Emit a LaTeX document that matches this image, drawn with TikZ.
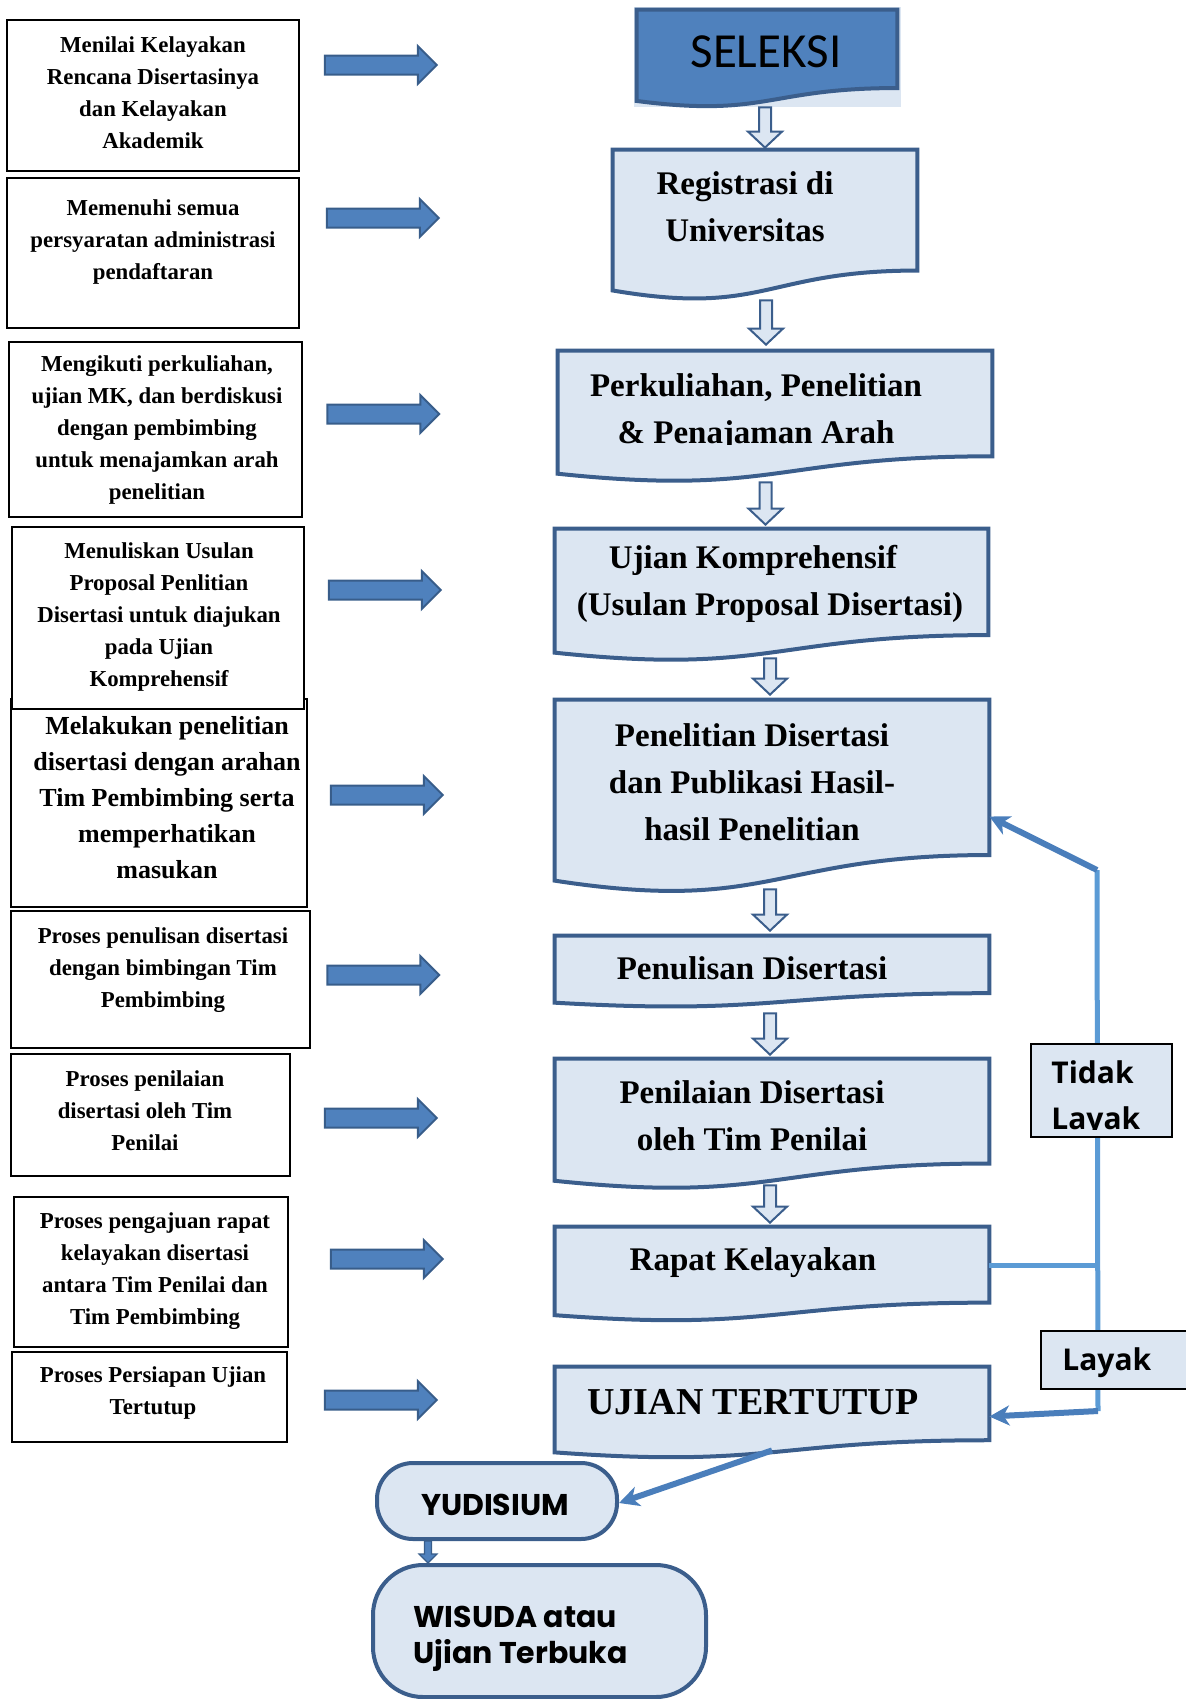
\documentclass[tikz,border=0pt]{standalone}
\usepackage{fontspec}
\setmainfont{Liberation Serif}
\newfontfamily\carlito{Carlito}
\newfontfamily\osans{Open Sans}
\newfontfamily\pops{Poppins}
\usetikzlibrary{arrows.meta,calc,fit,shapes.arrows}
\definecolor{bordc}{HTML}{3B5E8C}
\definecolor{boxc}{HTML}{DCE6F2}
\definecolor{arrf}{HTML}{4F81BD}
\definecolor{arrd}{HTML}{385D8A}
\definecolor{fbl}{HTML}{5B9BD5}
\definecolor{fbd}{HTML}{4A7EBB}
\newcommand\docshape[2]{\draw[#2] (#1.north west) -- (#1.north east) -- ($(#1.north east)!0.802!(#1.south east)$) .. controls ($(#1.north)!0.802!(#1.south)$) and ($(#1.north)!1.107!(#1.south)$) .. ($(#1.north west)!0.934!(#1.south west)$) -- cycle;}
\tikzset{
  lbox/.style={draw=black, line width=1pt, fill=white, inner sep=0pt},
  ltext/.style={font=\bfseries\fontsize{11.4pt}{16pt}\selectfont, align=center, inner sep=0pt},
  ltextb/.style={font=\bfseries\fontsize{13pt}{18pt}\selectfont, align=center, inner sep=0pt},
  rtext/.style={font=\bfseries\fontsize{16.5pt}{23.5pt}\selectfont, align=center, inner sep=0pt},
  frm/.style={inner sep=0pt},
  docsty/.style={draw=bordc, line width=2pt, fill=boxc},
  selsty/.style={draw=bordc, line width=2pt, fill=arrf},
  larrow/.style={single arrow, draw=arrd, fill=arrf, line width=1pt, inner xsep=0pt, inner ysep=4.25pt, single arrow head extend=4.75pt, minimum height=56pt},
  fatarrow/.style={draw=bordc, fill=boxc, line width=1pt, to path={let \p1=(\tikztostart), \p2=(\tikztotarget) in (\x2-3pt,\y1) -- (\x2+3pt,\y1) -- (\x2+3pt,\y2+8pt) -- (\x2+8.5pt,\y2+8pt) -- (\x2,\y2) -- (\x2-8.5pt,\y2+8pt) -- (\x2-3pt,\y2+8pt) -- cycle}},
  fatsmall/.style={draw=arrd, fill=arrf, line width=0.6pt, to path={let \p1=(\tikztostart), \p2=(\tikztotarget) in (\x2-1.75pt,\y1) -- (\x2+1.75pt,\y1) -- (\x2+1.75pt,\y2+4.5pt) -- (\x2+4.5pt,\y2+4.5pt) -- (\x2,\y2) -- (\x2-4.5pt,\y2+4.5pt) -- (\x2-1.75pt,\y2+4.5pt) -- cycle}},
  fbline/.style={draw=fbl, line width=2.5pt},
  fbarrow/.style={draw=fbd, line width=3pt, -{Stealth[length=10pt,width=10pt,inset=3pt]}},
  tbox/.style={draw=black, line width=1pt, fill=boxc, inner sep=0pt},
  ttext/.style={font=\osans\bfseries\fontsize{15pt}{23pt}\selectfont, align=left, inner sep=0pt, anchor=west},
  roundbox/.style={draw=bordc, line width=2pt, fill=boxc, inner sep=0pt},
  ptext/.style={font=\pops\bfseries\fontsize{15pt}{18pt}\selectfont, align=left, inner sep=0pt}
}
\begin{document}
\begin{tikzpicture}[x=0.5pt,y=-0.5pt]
\useasboundingbox (0,0) rectangle (1185,1699);

% ---------- left boxes ----------
\node[lbox, fit={(7,20) (299,171)}] (lb1) {};
\node[lbox, fit={(7,178) (299,328)}] (lb2) {};
\node[lbox, fit={(9,342) (302,517)}] (lb3) {};
\node[lbox, fit={(11,699) (307,907)}] (lb5) {};
\node[lbox, fit={(12,527) (304,709)}] (lb4) {};
\node[lbox, fit={(11,911) (310,1048)}] (lb6) {};
\node[lbox, fit={(11,1054) (290,1176)}] (lb7) {};
\node[lbox, fit={(14,1197) (288,1347)}] (lb8) {};
\node[lbox, fit={(12,1352) (287,1442)}] (lb9) {};

\node[ltext] (lt1) at (153,92.5) {Menilai Kelayakan\\Rencana Disertasinya\\dan Kelayakan\\Akademik};
\node[ltext] (lt2) at (153,242) {Memenuhi semua\\persyaratan administrasi\\pendaftaran};
\node[ltext] (lt3) at (157,430) {Mengikuti perkuliahan,\\ujian MK, dan berdiskusi\\dengan pembimbing\\untuk menajamkan arah\\penelitian};
\node[ltext] (lt4) at (159,617) {Menuliskan Usulan\\Proposal Penlitian\\Disertasi untuk diajukan\\pada Ujian\\Komprehensif};
\node[ltextb] (lt5) at (167,798) {Melakukan penelitian\\disertasi dengan arahan\\Tim Pembimbing serta\\memperhatikan\\masukan};
\node[ltext] (lt6) at (163,970) {Proses penulisan disertasi\\dengan bimbingan Tim\\Pembimbing};
\node[ltext] (lt7) at (145,1111) {Proses penilaian\\disertasi oleh Tim\\Penilai};
\node[ltext] (lt8) at (155,1271) {Proses pengajuan rapat\\kelayakan disertasi\\antara Tim Penilai dan\\Tim Pembimbing};
\node[ltext] (lt9) at (153,1393) {Proses Persiapan Ujian\\Tertutup};

% ---------- left block arrows ----------
\node[larrow] (la1) at (376,65) {};
\node[larrow] (la2) at (378,218) {};
\node[larrow] (la3) at (378.5,414) {};
\node[larrow] (la4) at (380,590) {};
\node[larrow] (la5) at (382,795) {};
\node[larrow] (la6) at (378.5,975) {};
\node[larrow] (la7) at (376,1118) {};
\node[larrow] (la8) at (382,1259) {};
\node[larrow] (la9) at (376,1400) {};

% ---------- right column frames ----------
\node[frm, fit={(637,10) (897,107)}] (sel) {};
\node[frm, fit={(613,150) (917,300)}] (reg) {};
\node[frm, fit={(558,351) (992,482)}] (perk) {};
\node[frm, fit={(555,529) (988,661)}] (ujk) {};
\node[frm, fit={(555,700) (989,893)}] (pen) {};
\node[frm, fit={(555,936) (989,1007)}] (penu) {};
\node[frm, fit={(555,1059) (989,1189)}] (peni) {};
\node[frm, fit={(555,1227) (989,1321)}] (rapat) {};
\node[frm, fit={(555,1367) (989,1458)}] (ujt) {};

\fill[boxc] (634,7) rectangle (901,107);
\docshape{sel}{selsty}
\docshape{reg}{docsty}
\docshape{perk}{docsty}
\docshape{ujk}{docsty}
\docshape{pen}{docsty}
\docshape{penu}{docsty}
\docshape{peni}{docsty}
\docshape{rapat}{docsty}
\docshape{ujt}{docsty}

\node[font=\carlito\fontsize{24.5pt}{28pt}\selectfont, inner sep=0pt] (selt) at (766,52) {SELEKSI};
\node[rtext] (regt) at (745,207) {Registrasi di\\Universitas};
\begin{scope}
\clip (560,353) rectangle (990,444);
\node[rtext] (perkt) at (756,412) {Perkuliahan, Penelitian\\\&\ Penajaman Arah};
\end{scope}
\node[rtext] (ujkt) at (770,584) {\hspace*{-17pt}Ujian Komprehensif\\(Usulan Proposal Disertasi)};
\node[rtext] (pent) at (752,782.5) {Penelitian Disertasi\\dan Publikasi Hasil-\\hasil Penelitian};
\node[rtext] (penut) at (752,968) {Penulisan Disertasi};
\node[rtext] (penit) at (752,1116) {Penilaian Disertasi\\oleh Tim Penilai};
\node[rtext] (rapt) at (753,1263) {Rapat Kelayakan};
\node[font=\bfseries\fontsize{19pt}{23pt}\selectfont, inner sep=0pt] (ujtt) at (753,1402) {UJIAN TERTUTUP};

% ---------- hollow down arrows ----------
\draw[fatarrow] (sel.south) to ([yshift=1pt]reg.north);
\draw[fatarrow] (reg.south) to ([xshift=-4.5pt,yshift=3pt]perk.north);
\draw[fatarrow] (perk.south) to ([xshift=-3pt,yshift=2pt]ujk.north);
\draw[fatarrow] ([yshift=1.5pt]ujk.south) to ([xshift=-1pt,yshift=2.5pt]pen.north);
\draw[fatarrow] ([yshift=2pt]pen.south) to ([xshift=-1pt,yshift=2.5pt]penu.north);
\draw[fatarrow] ([yshift=-3pt]penu.south) to ([xshift=-1pt,yshift=2pt]peni.north);
\draw[fatarrow] ([yshift=2pt]peni.south) to ([xshift=-1pt,yshift=2pt]rapat.north);

% ---------- feedback lines ----------
\coordinate (c1) at (1097,870);
\coordinate (c2) at (1098,1411);
\coordinate (c3) at (1097,1265);
\draw[fbline] (c1) -- (c2);
\draw[fbline] ([yshift=4.5pt]rapat.east) -- (c3);
\draw[fbarrow] (c1) -- ([yshift=-10pt]pen.east);
\draw[fbarrow] (c2) -- ([yshift=-2pt]ujt.east);

% ---------- Tidak Layak / Layak ----------
\node[tbox, fit={(1031,1044) (1172,1137)}] (tdkb) {};
\begin{scope}
\clip (1031,1044) rectangle (1172,1129);
\node[ttext] (tdkt) at (1051,1099) {Tidak\\Layak};
\end{scope}
\node[tbox, fit={(1041,1331) (1195,1389)}] (lykb) {};
\node[ttext] (lykt) at (1062,1363) {Layak};

% ---------- YUDISIUM / WISUDA ----------
\node[roundbox, rounded corners=18pt, fit={(377,1463) (617,1539)}] (yud) {};
\node[roundbox, rounded corners=25pt, fit={(373,1565) (706,1697)}] (wis) {};
\node[ptext] (yudt) at (495,1505) {YUDISIUM};
\node[ptext, anchor=west] (wist) at (413,1639) {WISUDA atau\\Ujian Terbuka};
\draw[fbarrow] ([yshift=4pt]ujt.south) -- ([yshift=-1pt]yud.east);
\draw[fatsmall] ([xshift=-34.5pt]yud.south) to ([xshift=-55.75pt]wis.north);
\end{tikzpicture}
\end{document}
